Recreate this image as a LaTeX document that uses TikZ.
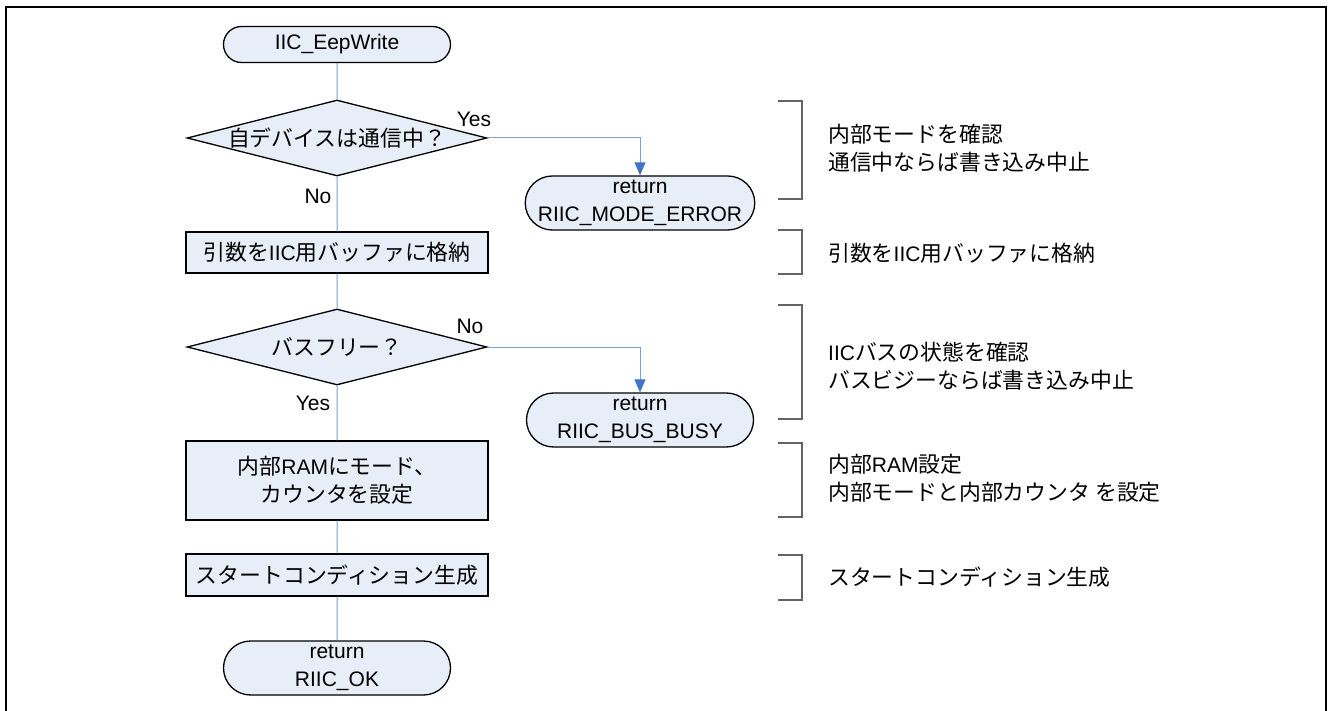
\documentclass[tikz,border=0pt]{standalone}
\usepackage{fontspec}
\setmainfont{Liberation Sans}
\newfontfamily\jp[Scale=1.04]{Noto Sans CJK JP}
\usepackage{tikz}
\usetikzlibrary{shapes.geometric,shapes.misc,arrows.meta}
\definecolor{boxfill}{RGB}{232,238,247}
\definecolor{flowline}{RGB}{125,160,210}
\definecolor{flowarrow}{RGB}{68,114,196}
\definecolor{bracketgray}{RGB}{100,100,100}

\begin{document}
\begin{tikzpicture}[x=1pt,y=-1pt,
    every node/.style={font=\fontsize{21}{28}\selectfont},
    term/.style={draw, line width=1.3pt, fill=boxfill, rounded rectangle, minimum width=227pt, inner sep=0pt, align=center},
    proc/.style={draw, line width=1.3pt, fill=boxfill, rectangle, minimum width=302pt, inner sep=0pt, align=center},
    dec/.style={draw, line width=1.3pt, fill=boxfill, diamond, aspect=3.95, minimum width=300pt, minimum height=76pt, inner sep=0pt},
    flow/.style={draw=flowline, line width=1pt},
    branch/.style={flow, -{Triangle[length=13pt,width=11pt,fill=flowarrow,color=flowarrow]}},
    brace/.style={draw=bracketgray, line width=1.3pt},
    note/.style={anchor=west, align=left, inner sep=0pt}]
      \useasboundingbox (0,0) rectangle (1328,711);
      \draw[line width=2pt] (6,716) -- (6,7) -- (1326,7) -- (1326,716);

      \node (start) at (337,44.5) [term, minimum height=36pt] {IIC\_EepWrite};
      \node (d1) at (337,138) [dec] {\jp 自デバイスは通信中？};
      \node (err1) at (640,203) [term, minimum height=54pt] {return\\RIIC\_MODE\_ERROR};
      \node (p1) at (337,252.5) [proc, minimum height=41pt] {{\jp 引数を}IIC{\jp 用バッファに格納}};
      \node (d2) at (337,347) [dec] {\jp バスフリー？};
      \node (err2) at (640,420) [term, minimum height=54pt] {return\\RIIC\_BUS\_BUSY};
      \node (p2) at (337,480.5) [proc, minimum height=79pt] {{\jp 内部}RAM{\jp にモード、}\\{\jp カウンタを設定}};
      \node (p3) at (337,575) [proc, minimum height=42pt] {\jp スタートコンディション生成};
      \node (stop) at (337,668) [term, minimum height=54pt] {return\\RIIC\_OK};

      \node (yes1) at (474,119) {Yes};
      \node (no1) at (318,196) {No};
      \node (no2) at (470,326) {No};
      \node (yes2) at (313,403) {Yes};

      \draw[flow] (start) to (d1) to (p1) to (d2) to (p2) to (p3) to (stop);
      \draw[branch] (d1.east) -| (err1.north);
      \draw[branch] (d2.east) -| (err2.north);

      % comments on the right
      \draw[brace] (778,101) -- (802,101) -- (802,199) -- (778,199);
      \draw[brace] (778,230) -- (802,230) -- (802,274) -- (778,274);
      \draw[brace] (778,305) -- (802,305) -- (802,419) -- (778,419);
      \draw[brace] (778,443) -- (802,443) -- (802,517) -- (778,517);
      \draw[brace] (778,555) -- (802,555) -- (802,600) -- (778,600);

      \node (c1) at (828,148) [note] {\jp 内部モードを確認\\\jp 通信中ならば書き込み中止};
      \node (c2) at (828,253) [note] {{\jp 引数を}IIC{\jp 用バッファに格納}};
      \node (c3) at (828,366) [note] {IIC{\jp バスの状態を確認}\\\jp バスビジーならば書き込み中止};
      \node (c4) at (828,478.5) [note] {{\jp 内部}RAM{\jp 設定}\\\jp 内部モードと内部カウンタ を設定};
      \node (c5) at (828,577) [note] {\jp スタートコンディション生成};
    \end{tikzpicture}
\end{document}
